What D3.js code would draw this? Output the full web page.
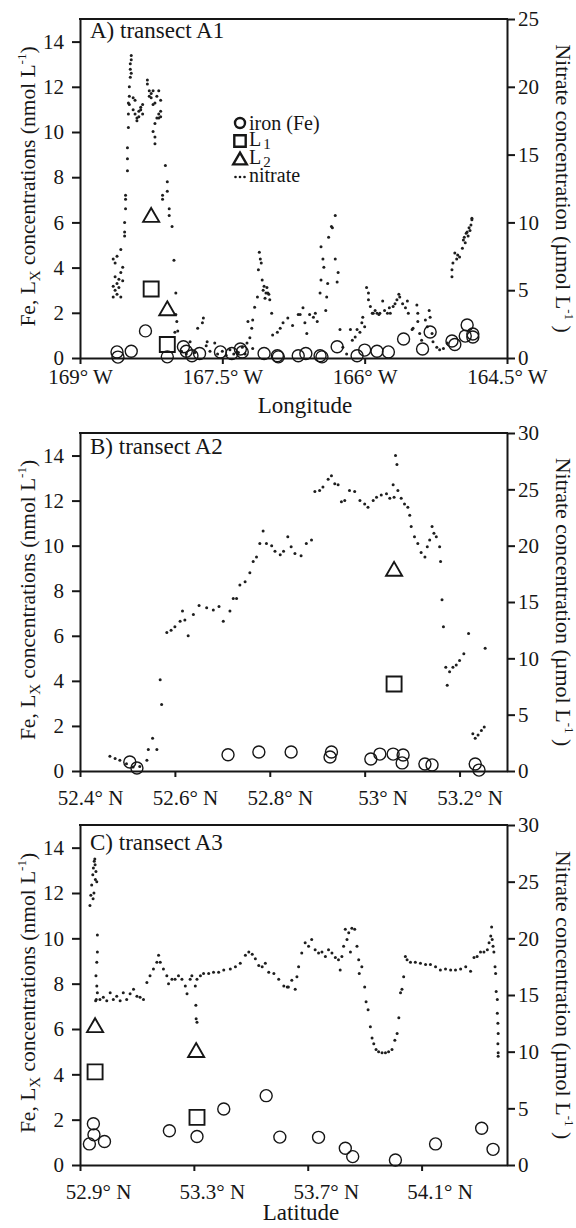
<!DOCTYPE html>
<html>
<head>
<meta charset="utf-8">
<script src="https://cdn.jsdelivr.net/npm/d3@7"></script>
<style>
body { margin: 0; background: #fff; }
svg { display: block; }
</style>
</head>
<body>
<svg id="chart" width="576" height="1228"></svg>
<script>
// ---- data: transect A1 (longitude, deg E negative = W)
var nitrateA = [[-168.65,4.5],[-168.65,5.3],[-168.65,7.3],[-168.63,5.0],[-168.63,7.0],[-168.63,6.0],[-168.61,5.5],[-168.61,4.7],[-168.61,7.5],[-168.59,5.8],[-168.59,5.2],[-168.57,4.5],[-168.57,6.3],[-168.57,8.0],[-168.55,6.7],[-168.55,5.7],[-168.53,9.0],[-168.53,9.3],[-168.53,10.0],[-168.52,11.7],[-168.52,12.0],[-168.52,11.0],[-168.50,13.8],[-168.50,14.7],[-168.50,15.5],[-168.49,17.0],[-168.49,18.0],[-168.49,18.8],[-168.48,19.3],[-168.48,18.7],[-168.48,20.0],[-168.47,20.7],[-168.47,21.3],[-168.47,21.7],[-168.46,22.0],[-168.46,22.3],[-168.46,21.0],[-168.44,19.2],[-168.44,18.3],[-168.42,18.0],[-168.42,19.0],[-168.40,17.7],[-168.40,17.5],[-168.38,17.8],[-168.38,18.2],[-168.36,18.3],[-168.36,18.5],[-168.34,18.7],[-168.34,18.0],[-168.29,20.5],[-168.29,20.2],[-168.27,19.7],[-168.27,19.3],[-168.25,19.2],[-168.25,19.5],[-168.23,18.7],[-168.23,19.7],[-168.23,16.7],[-168.21,16.3],[-168.21,17.3],[-168.21,18.8],[-168.21,15.8],[-168.19,19.3],[-168.19,17.7],[-168.17,19.7],[-168.17,18.0],[-168.17,17.7],[-168.15,19.0],[-168.15,18.2],[-168.15,17.8],[-168.13,12.0],[-168.13,11.7],[-168.10,14.2],[-168.08,13.0],[-168.08,12.3],[-168.06,11.0],[-168.06,10.5],[-168.03,9.7],[-168.01,7.2],[-168.00,1.9],[-167.99,4.8],[-167.99,3.2],[-167.98,2.7],[-167.97,2.0],
  [-167.93,0.5],[-167.88,0.3],[-167.84,1.2],[-167.79,0.4],[-167.76,2.2],[-167.71,2.6],[-167.70,2.95],[-167.67,0.9],[-167.66,1.2],[-167.63,0.5],[-167.58,1.1],[-167.55,0.3],[-167.50,0.5],[-167.46,0.2],[-167.42,0.6],[-167.38,0.3],[-167.33,0.4],[-167.29,0.8],[-167.26,0.3],
  [-167.24,1.1],[-167.23,2.7],[-167.21,1.5],[-167.19,2.2],[-167.18,2.8],[-167.18,0.7],[-167.16,3.75],[-167.13,4.5],[-167.12,6.5],[-167.11,7.8],[-167.10,7.3],[-167.09,7.0],[-167.08,5.75],[-167.07,5.0],[-167.06,5.3],[-167.05,4.4],[-167.04,4.8],[-167.03,5.2],[-167.02,4.8],[-167.01,4.7],[-167.00,4.3],[-166.98,3.3],
  [-166.97,1.7],[-166.92,1.9],[-166.89,2.2],[-166.86,2.6],[-166.81,2.95],[-166.76,2.4],[-166.70,3.2],[-166.68,3.2],[-166.65,3.7],[-166.63,2.6],[-166.61,1.8],[-166.58,3.2],[-166.54,3.0],[-166.52,3.3],[-166.50,2.7],[-166.47,4.8],[-166.46,5.75],[-166.46,8.2],[-166.44,7.3],[-166.43,6.7],[-166.41,3.5],[-166.40,4.5],[-166.39,5.5],[-166.38,8.9],[-166.35,9.7],[-166.34,9.6],[-166.31,10.5],[-166.31,7.3],[-166.29,5.6],[-166.28,6.3],
  [-166.26,2.1],[-166.23,0.8],[-166.19,0.3],[-166.15,2.1],[-166.13,1.3],[-166.10,1.55],[-166.08,2.1],[-166.05,1.9],[-166.03,2.6],[-166.02,3.0],[-166.00,2.3],
  [-165.98,5.2],[-165.96,4.8],[-165.96,4.3],[-165.94,3.8],[-165.92,3.3],[-165.91,3.3],[-165.89,3.5],[-165.87,3.3],[-165.85,3.2],[-165.84,3.3],[-165.81,4.2],[-165.79,3.5],[-165.76,3.3],[-165.74,3.7],[-165.73,3.3],[-165.70,3.8],[-165.68,4.0],[-165.66,4.3],[-165.64,4.7],[-165.63,4.5],[-165.60,4.0],[-165.57,3.7],[-165.55,4.2],[-165.54,3.3],[-165.50,2.1],[-165.49,2.2],[-165.45,3.9],[-165.44,3.3],[-165.44,2.7],[-165.42,1.8],[-165.40,1.3],[-165.36,2.8],[-165.34,2.3],[-165.32,3.5],[-165.31,3.0],[-165.29,1.8],[-165.28,1.2],[-165.24,0.8],[-165.21,0.6],[-165.17,0.7],[-165.13,1.1],
  [-165.08,6.0],[-165.08,6.5],[-165.07,7.0],[-165.05,7.75],[-165.03,7.3],[-165.02,7.6],[-165.00,7.45],[-164.97,8.1],[-164.96,8.7],[-164.95,8.9],[-164.94,8.5],[-164.93,9.2],[-164.92,9.3],[-164.91,9.0],[-164.90,9.6],[-164.89,9.4],[-164.88,9.8],[-164.87,10.2],[-164.87,10.3]];
var ironA = [[-168.61,0.27],[-168.60,0.04],[-168.46,0.3],[-168.31,1.2],[-168.08,0.05],[-167.91,0.5],[-167.88,0.3],[-167.82,0.1],[-167.74,0.2],[-167.52,0.27],[-167.40,0.2],[-167.31,0.4],[-167.29,0.27],[-167.06,0.2],[-166.92,0.1],[-166.91,0.05],[-166.70,0.1],[-166.62,0.2],[-166.47,0.1],[-166.45,0.05],[-166.29,0.5],[-166.08,0.1],[-166.00,0.35],[-165.87,0.3],[-165.75,0.27],[-165.59,0.84],[-165.39,0.4],[-165.31,1.15],[-165.08,0.75],[-165.05,0.6],[-164.94,0.97],[-164.92,1.46],[-164.86,1.06],[-164.86,0.93]];
var l1A = [[-168.25,3.05],[-168.08,0.6]];
var l2A = [[-168.25,6.33],[-168.08,2.2]];

// ---- transect A2 (latitude)
var nitrateB = [[52.463,1.3],[52.474,1.1],[52.484,0.95],[52.498,0.65],[52.512,0.36],[52.526,0.4],[52.541,0.95],[52.544,1.9],[52.553,2.9],[52.562,1.9],[52.569,8.1],[52.572,5.9],[52.583,12.3],[52.592,12.5],[52.600,12.8],[52.611,13.3],[52.616,14.2],[52.621,13.4],[52.628,12.0],[52.639,13.9],[52.651,14.7],[52.667,14.5],[52.681,14.3],[52.693,14.6],[52.702,13.3],[52.716,14.2],[52.723,15.3],[52.730,15.3],[52.737,16.5],[52.748,16.8],[52.758,17.6],[52.765,18.6],[52.772,19.0],[52.779,20.2],[52.786,21.3],[52.793,20.2],[52.804,20.0],[52.811,19.5],[52.822,19.2],[52.829,19.5],[52.838,20.8],[52.845,19.9],[52.853,19.3],[52.866,19.1],[52.877,20.2],[52.888,20.5],[52.895,24.8],[52.905,24.9],[52.912,25.2],[52.923,25.9],[52.930,26.2],[52.937,25.5],[52.944,25.4],[52.951,23.9],[52.958,24.0],[52.968,24.9],[52.979,24.8],[52.990,24.0],[53.000,23.7],[53.007,23.4],[53.018,24.0],[53.025,24.3],[53.035,24.5],[53.046,24.6],[53.053,24.2],[53.060,25.4],[53.062,24.3],[53.065,28.0],[53.068,27.2],[53.070,24.9],[53.077,24.2],[53.084,23.7],[53.091,23.4],[53.095,22.7],[53.098,21.7],[53.105,20.8],[53.112,20.2],[53.119,19.4],[53.127,19.0],[53.132,19.9],[53.137,20.5],[53.142,21.7],[53.146,21.1],[53.151,20.8],[53.158,19.9],[53.160,18.6],[53.163,15.2],[53.166,12.8],[53.171,9.2],[53.174,7.6],[53.179,8.8],[53.186,9.2],[53.193,9.4],[53.200,9.8],[53.209,10.4],[53.219,12.2],[53.228,3.3],[53.233,2.9],[53.239,3.2],[53.246,3.6],[53.252,3.9],[53.254,10.9]];
var ironB = [[52.505,0.4],[52.520,0.13],[52.712,0.72],[52.777,0.84],[52.845,0.84],[52.930,0.84],[52.927,0.62],[53.013,0.53],[53.032,0.75],[53.060,0.75],[53.081,0.71],[53.079,0.36],[53.127,0.31],[53.142,0.27],[53.233,0.31],[53.241,0.04]];
var l1B = [[53.062,3.86]];
var l2B = [[53.062,8.97]];

// ---- transect A3 (latitude)
var nitrateC = [[52.935,22.9],[52.938,23.8],[52.941,24.7],[52.945,25.6],[52.947,26.2],[52.950,26.8],[52.953,26.5],[52.956,25.9],[52.959,25.0],[52.961,20.3],[52.961,18.8],[52.959,17.9],[52.956,16.7],[52.959,15.8],[52.961,15.2],[52.957,14.6],[52.955,14.5],[52.949,24.0],[52.954,25.2],[52.946,23.5],[52.952,27.0],
  [52.970,14.6],[52.982,14.8],[52.994,14.5],[53.006,15.2],[53.017,14.6],[53.029,14.9],[53.041,14.5],[53.052,15.2],[53.064,14.6],[53.076,15.1],[53.088,15.5],[53.100,14.9],[53.111,14.8],[53.123,14.6],[53.135,16.1],[53.146,16.7],[53.158,17.3],[53.170,17.9],[53.176,18.5],[53.182,17.9],[53.193,17.3],[53.205,16.7],[53.211,16.0],[53.223,16.4],[53.234,16.4],[53.246,16.7],[53.258,16.4],[53.270,15.8],[53.276,15.1],[53.287,16.4],[53.293,16.7],[53.305,15.8],[53.307,14.1],[53.308,12.9],[53.311,12.6],[53.311,16.4],[53.323,16.7],[53.334,16.9],[53.352,16.9],[53.369,17.0],[53.387,17.0],[53.405,17.2],[53.428,17.3],[53.446,17.5],[53.463,17.8],[53.481,18.5],[53.493,18.8],[53.505,18.6],[53.516,18.2],[53.528,17.6],[53.540,17.5],[53.551,17.8],[53.563,17.0],[53.581,16.9],[53.598,16.4],[53.616,15.8],[53.628,15.7],
  [53.632,15.7],[53.644,16.3],[53.656,15.5],[53.662,16.6],[53.668,17.5],[53.679,18.7],[53.691,19.6],[53.703,19.3],[53.714,19.9],[53.726,19.0],[53.738,18.7],[53.750,18.8],[53.762,18.4],[53.773,19.0],[53.785,18.7],[53.797,18.3],[53.808,18.1],[53.814,17.2],[53.820,18.4],[53.826,19.3],[53.832,20.8],[53.838,19.9],[53.844,20.5],[53.850,18.8],[53.855,20.9],[53.865,20.8],[53.873,19.3],[53.879,18.1],[53.881,16.9],[53.890,17.5],[53.900,15.7],[53.905,14.4],[53.912,13.7],[53.920,12.2],[53.926,11.2],[53.932,10.7],[53.940,10.2],[53.949,10.0],[53.961,9.9],[53.973,9.9],[53.984,10.0],[53.996,10.2],[54.006,11.0],[54.014,11.6],[54.020,13.0],[54.026,15.2],[54.031,15.5],[54.037,16.6],[54.043,18.4],[54.049,18.1],[54.061,17.9],[54.078,17.9],[54.096,17.8],[54.114,17.7],[54.131,17.7],[54.149,17.5],[54.166,17.2],[54.184,17.3],[54.202,17.2],[54.219,17.2],[54.237,17.3],[54.255,17.5],[54.272,17.1],[54.284,18.3],[54.295,18.4],[54.307,18.8],[54.319,18.8],[54.331,19.0],[54.337,19.6],[54.343,20.2],[54.346,21.0],[54.348,19.9],[54.351,19.3],[54.354,18.8],[54.358,17.5],[54.360,16.9],[54.362,15.3],[54.366,14.6],[54.366,13.4],[54.368,12.5],[54.369,11.6],[54.368,10.7],[54.369,9.9],[54.369,9.6]];
var ironC = [[52.933,0.93],[52.947,1.82],[52.949,1.33],[52.986,1.04],[53.214,1.51],[53.311,1.26],[53.405,2.47],[53.554,3.06],[53.602,1.23],[53.738,1.22],[53.832,0.74],[53.858,0.37],[54.008,0.22],[54.149,0.93],[54.311,1.62],[54.351,0.69]];
var l1C = [[52.953,4.11],[53.311,2.1]];
var l2C = [[52.953,6.17],[53.308,5.07]];

// ---- ticks
var feTicks = [0, 2, 4, 6, 8, 10, 12, 14];
var nitTicksA = [0, 5, 10, 15, 20, 25];
var nitTicksBC = [0, 5, 10, 15, 20, 25, 30];
var lonTicks = [-169, -167.5, -166, -164.5];
var lonLabels = ["169\u00b0 W", "167.5\u00b0 W", "166\u00b0 W", "164.5\u00b0 W"];
var latTicksB = [52.4, 52.6, 52.8, 53.0, 53.2];
var latLabelsB = ["52.4\u00b0 N", "52.6\u00b0 N", "52.8\u00b0 N", "53\u00b0 N", "53.2\u00b0 N"];
var latTicksC = [52.9, 53.3, 53.7, 54.1];
var latLabelsC = ["52.9\u00b0 N", "53.3\u00b0 N", "53.7\u00b0 N", "54.1\u00b0 N"];
var legendItems = ["iron (Fe)", "L1", "L2", "nitrate"];

var INK = "#161616";
var FONT = "Liberation Serif";
var svg = d3.select("#chart");

var panels = [
    { title: "A) transect A1", top: 19, bottom: 358, titleY: 38, xDomain: [-169, -164.5], nMax: 25,
      nTicks: nitTicksA, xTicks: lonTicks, xLabels: lonLabels, labelPad: 5, degShift: null,
      nitrate: nitrateA, iron: ironA, l1: l1A, l2: l2A, xTitle: "Longitude", xTitleX: 305, xTitleY: 413, legend: true },
    { title: "B) transect A2", top: 433, bottom: 771, titleY: 454, xDomain: [52.4, 53.3], nMax: 30,
      nTicks: nitTicksBC, xTicks: latTicksB, xLabels: latLabelsB, labelPad: 13, degShift: 14,
      nitrate: nitrateB, iron: ironB, l1: l1B, l2: l2B },
    { title: "C) transect A3", top: 825, bottom: 1165, titleY: 850, xDomain: [52.9, 54.4], nMax: 30,
      nTicks: nitTicksBC, xTicks: latTicksC, xLabels: latLabelsC, labelPad: 13, degShift: 22,
      nitrate: nitrateC, iron: ironC, l1: l1C, l2: l2C, xTitle: "Latitude", xTitleX: 301, xTitleY: 1220 }
];

var LEFT = 80, RIGHT = 507;
var sqSym = d3.symbol().type(d3.symbolSquare).size(225);
var triSym = d3.symbol().type(d3.symbolTriangle).size(112);

function txt(parent) {
    return parent.append("text").attr("font-family", FONT).attr("fill", INK);
}

function styleAxis(g) {
    g.attr("font-family", FONT);
    g.selectAll(".domain").attr("stroke", INK).attr("stroke-width", 2);
    g.selectAll(".tick line").attr("stroke", INK).attr("stroke-width", 2);
    g.selectAll(".tick text").attr("font-family", FONT).attr("font-size", 21).attr("fill", INK);
}

function drawPanel(p) {
    var x = d3.scaleLinear().domain(p.xDomain).range([LEFT, RIGHT]);
    var yFe = d3.scaleLinear().domain([0, 15]).range([p.bottom, p.top]);
    var yN = d3.scaleLinear().domain([0, p.nMax]).range([p.bottom, p.top]);
    var g = svg.append("g");

    // frame top
    g.append("line").attr("x1", LEFT - 1).attr("x2", RIGHT + 1)
        .attr("y1", p.top).attr("y2", p.top)
        .attr("stroke", INK).attr("stroke-width", 2);

    var gl = g.append("g").attr("transform", "translate(" + LEFT + ",0)")
        .call(d3.axisLeft(yFe).tickValues(feTicks).tickSize(8).tickSizeOuter(0).tickPadding(8));
    styleAxis(gl);

    var gr = g.append("g").attr("transform", "translate(" + RIGHT + ",0)")
        .call(d3.axisRight(yN).tickValues(p.nTicks).tickSize(8).tickSizeOuter(0).tickPadding(3));
    styleAxis(gr);

    var gb = g.append("g").attr("transform", "translate(0," + p.bottom + ")")
        .call(d3.axisBottom(x).tickValues(p.xTicks).tickSize(6).tickSizeOuter(0).tickPadding(p.labelPad)
            .tickFormat(function(d, i){ return p.xLabels[i]; }));
    styleAxis(gb);

    // latitude labels sit with the degree sign a bit right of the tick
    if (p.degShift !== null) {
        gb.selectAll(".tick text").each(function(d, i){
            var t = d3.select(this);
            var parts = p.xLabels[i].split("\u00b0");
            t.text("");
            var num = t.append("tspan").text(parts[0]);
            t.append("tspan").text("\u00b0" + parts[1]);
            var w = num.node().getComputedTextLength();
            t.attr("text-anchor", "start").attr("x", p.degShift - w);
        });
    }

    // nitrate
    g.append("g").selectAll("circle").data(p.nitrate).join("circle")
        .attr("cx", function(d){ return x(d[0]); })
        .attr("cy", function(d){ return yN(d[1]); })
        .attr("r", 1.5).attr("fill", "#1e1e1e");

    // iron
    g.append("g").selectAll("circle").data(p.iron).join("circle")
        .attr("cx", function(d){ return x(d[0]); })
        .attr("cy", function(d){ return yFe(d[1]); })
        .attr("r", 6).attr("fill", "none").attr("stroke", INK).attr("stroke-width", 1.4);

    g.append("g").selectAll("path").data(p.l1).join("path")
        .attr("d", sqSym)
        .attr("transform", function(d){ return "translate(" + x(d[0]) + "," + yFe(d[1]) + ")"; })
        .attr("fill", "none").attr("stroke", INK).attr("stroke-width", 1.9);

    g.append("g").selectAll("path").data(p.l2).join("path")
        .attr("d", triSym)
        .attr("transform", function(d){ return "translate(" + x(d[0]) + "," + (yFe(d[1]) + 2.3) + ")"; })
        .attr("fill", "none").attr("stroke", INK).attr("stroke-width", 1.9);

    // panel title
    txt(g).attr("x", 90).attr("y", p.titleY).attr("font-size", 23).text(p.title);

    // y titles
    var yMid = (p.top + p.bottom) / 2;
    var lt = txt(g).attr("transform", "translate(35," + (yMid - 2) + ") rotate(-90)")
        .attr("text-anchor", "middle").attr("font-size", 21.5);
    lt.append("tspan").text("Fe, L");
    lt.append("tspan").attr("font-size", 15).attr("dy", 5).text("X");
    lt.append("tspan").attr("dy", -5).text(" concentrations (nmol L");
    lt.append("tspan").attr("font-size", 13).attr("dy", -9).text("-1");
    lt.append("tspan").attr("dy", 9).text(")");

    var rt = txt(g).attr("transform", "translate(556," + yMid + ") rotate(90)")
        .attr("text-anchor", "middle").attr("font-size", 22);
    rt.append("tspan").text("Nitrate concentration (\u00b5mol L");
    rt.append("tspan").attr("font-size", 13).attr("dy", -9).text("-1");
    rt.append("tspan").attr("dy", 9).text(" )");

    if (p.xTitle) {
        txt(g).attr("x", p.xTitleX).attr("y", p.xTitleY)
            .attr("text-anchor", "middle").attr("font-size", 23).text(p.xTitle);
    }

    if (p.legend) drawLegend(g);
}

function drawLegend(g) {
    var lx = 240, tx = 249, rows = [123, 141, 159, 177];
    var lg = g.append("g");
    lg.append("circle").attr("cx", lx).attr("cy", rows[0]).attr("r", 5)
        .attr("fill", "none").attr("stroke", INK).attr("stroke-width", 2.4);
    lg.append("path").attr("d", d3.symbol().type(d3.symbolSquare).size(130)())
        .attr("transform", "translate(" + lx + "," + rows[1] + ")")
        .attr("fill", "none").attr("stroke", INK).attr("stroke-width", 2.4);
    lg.append("path").attr("d", d3.symbol().type(d3.symbolTriangle).size(80)())
        .attr("transform", "translate(" + lx + "," + (rows[2] + 1.5) + ")")
        .attr("fill", "none").attr("stroke", INK).attr("stroke-width", 2.4);
    lg.selectAll(".ldot").data([-4.5, 0, 4.5]).join("circle")
        .attr("cx", function(d){ return lx + d; }).attr("cy", rows[3])
        .attr("r", 1.3).attr("fill", INK);

    txt(lg).attr("x", tx).attr("y", rows[0] + 7).attr("font-size", 20).text(legendItems[0]);
    [1, 2].forEach(function(k){
        var t = txt(lg).attr("x", tx).attr("y", rows[k] + 5).attr("font-size", 20);
        t.append("tspan").text(legendItems[k].charAt(0));
        t.append("tspan").attr("font-size", 15).attr("dx", 2).attr("dy", 3).text(legendItems[k].charAt(1));
    });
    txt(lg).attr("x", tx).attr("y", rows[3] + 5).attr("font-size", 20).text(legendItems[3]);
}

panels.forEach(drawPanel);
</script>
</body>
</html>
